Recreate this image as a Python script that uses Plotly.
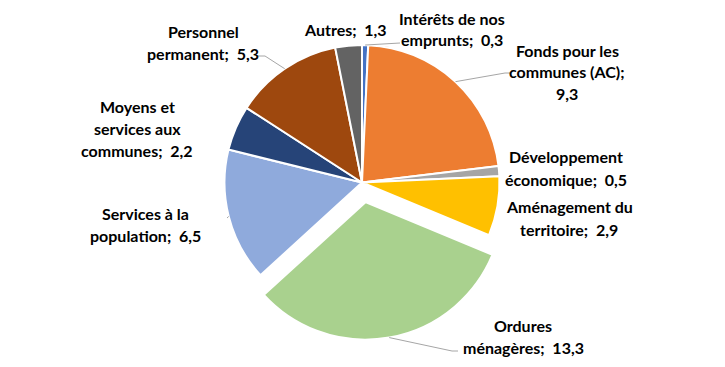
import math
import plotly.graph_objects as go

NB = "\u00a0"
categories = [
    "Intérêts de nos emprunts",
    "Fonds pour les communes (AC)",
    "Développement économique",
    "Aménagement du territoire",
    "Ordures ménagères",
    "Services à la population",
    "Moyens et services aux communes",
    "Personnel permanent",
    "Autres",
]
values = [0.3, 9.3, 0.5, 2.9, 13.3, 6.5, 2.2, 5.3, 1.3]
value_labels = ["0,3", "9,3", "0,5", "2,9", "13,3", "6,5", "2,2", "5,3", "1,3"]
colors = ["#4472C4", "#ED7D31", "#A5A5A5", "#FFC000", "#A9D18E",
          "#8FAADC", "#264478", "#9E480E", "#636363"]
pulls = [0, 0, 0, 0, 0.145, 0, 0, 0, 0]

# label text blocks (line-broken as in the reference)
label_lines = [
    ["Intérêts de nos", "emprunts;" + NB + " 0,3"],
    ["Fonds pour les", "communes (AC);", "9,3"],
    ["Développement", "économique;" + NB + " 0,5"],
    ["Aménagement du", "territoire;" + NB + " 2,9"],
    ["Ordures", "ménagères;" + NB + " 13,3"],
    ["Services à la", "population;" + NB + " 6,5"],
    ["Moyens et", "services aux", "communes;" + NB + " 2,2"],
    ["Personnel", "permanent;" + NB + " 5,3"],
    ["Autres;" + NB + " 1,3"],
]

# page body has an 8px margin: figure is drawn offset by OFF px
OFF = 8
WIN_W, WIN_H = 725, 367
W, H = WIN_W - OFF, WIN_H - OFF
CX, CY, R = 362, 182.5, 137.5   # window px

# label block centres (window px) and leader line bends – layout only
label_pos = [(452, 29), (567, 72), (566, 168), (569, 218), (523, 336),
             (145, 224), (137, 128), (203, 42), (345, 29)]
leaders = {
    0: [(400, 43)],
    1: [(505, 73), (510, 73)],
    4: [(452, 351), (458, 351)],
    5: [(227, 218)],
    7: [(265, 56), (258, 56)],
}

def px2paper(x, y):
    return (x - OFF) / W, 1 - (y - OFF) / H

dx0, _ = px2paper(CX, 0)
fig = go.Figure(go.Pie(
    labels=categories, values=values, sort=False, direction="clockwise",
    rotation=0, pull=pulls, textinfo="none", hoverinfo="label+value",
    marker=dict(colors=colors, line=dict(color="white", width=2)),
    domain=dict(x=[dx0 - 0.3, dx0 + 0.3],
                y=[px2paper(0, CY + R * 1.145)[1], px2paper(0, CY - R * 1.145)[1]]),
    showlegend=False,
))

total = sum(values)
cum = 0
shapes = []
for i, v in enumerate(values):
    mid = (cum + v / 2) / total * 2 * math.pi
    cum += v
    if i in leaders:
        rr = R * (1 + pulls[i])
        sx = CX + rr * math.sin(mid)
        sy = CY - rr * math.cos(mid)
        pts = [(sx, sy)] + leaders[i]
        path = "M " + " L ".join(f"{px2paper(x, y)[0]},{px2paper(x, y)[1]}" for x, y in pts)
        shapes.append(dict(type="path", path=path, xref="paper", yref="paper",
                           line=dict(color="#A6A6A6", width=1)))

annotations = []
for lines, (x, y) in zip(label_lines, label_pos):
    n = len(lines)
    for k, t in enumerate(lines):
        ly = y + (k - (n - 1) / 2) * 22
        px, py = px2paper(x, ly)
        annotations.append(dict(text="<b>" + t + "</b>", x=px, y=py, xref="paper", yref="paper",
                                showarrow=False, xanchor="center", yanchor="middle",
                                font=dict(family="Lato, Carlito, sans-serif", size=16, color="#000000")))

fig.update_layout(
    width=W, height=H, margin=dict(l=0, r=0, t=0, b=0),
    paper_bgcolor="white", plot_bgcolor="white",
    shapes=shapes, annotations=annotations,
)
fig.write_html("out.html")
